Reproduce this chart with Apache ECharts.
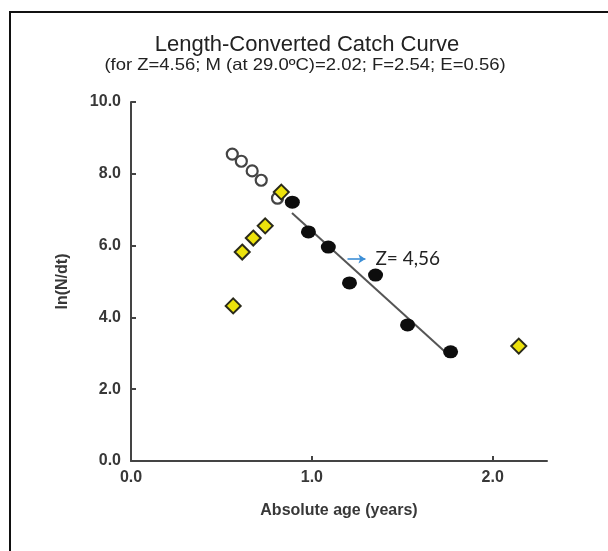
<!DOCTYPE html>
<html>
<head>
<meta charset="utf-8">
<script src="https://cdn.jsdelivr.net/npm/echarts@6/dist/echarts.min.js"></script>
<style>
  html, body { margin: 0; padding: 0; background: #fff; }
  #frame { position: absolute; left: 0; top: 0; width: 608px; height: 551px; }
  #frame::before {
    content: ""; position: absolute; left: 9px; top: 11px; right: 0; bottom: 0;
    border-top: 2px solid #111; border-left: 2px solid #111; pointer-events: none; z-index: 2;
  }
  #chart { position: absolute; left: 0; top: 0; width: 608px; height: 551px; }
</style>
</head>
<body>
<div id="frame"><div id="chart"></div></div>
<script>
// Catch curve points: age (years) vs ln(N/dt)
const excludedEarly = [[0.56, 8.55], [0.61, 8.35], [0.67, 8.08], [0.72, 7.82], [0.81, 7.32]];
const yellowPoints = [[0.565, 4.32], [0.615, 5.82], [0.676, 6.21], [0.742, 6.55], [0.831, 7.49], [2.144, 3.2]];
const regressionPoints = [[0.892, 7.21], [0.981, 6.38], [1.091, 5.96], [1.208, 4.96], [1.352, 5.18], [1.529, 3.79], [1.767, 3.04]];
const fitLine = [[0.89, 6.91], [1.756, 2.95]];
const arrowFrom = [1.197, 5.63];
const arrowTo = [1.296, 5.63];
const zLabel = 'Z= 4,56';
const xTicks = [0, 1, 2];
const yTicks = [0, 2, 4, 6, 8, 10];
const titleText = 'Length-Converted Catch Curve';
const subtitleText = '(for Z=4.56; M (at 29.0ºC)=2.02; F=2.54; E=0.56)';

const chart = echarts.init(document.getElementById('chart'), null, { renderer: 'canvas' });
const sans = 'Liberation Sans, Arial, sans-serif';
const labelFont = { color: '#383838', fontSize: 16, fontFamily: sans, fontWeight: 'bold' };

chart.setOption({
  backgroundColor: '#fff',
  animation: false,
  graphic: [
    {
      type: 'text', x: 307, y: 45, scaleX: 1.0,
      style: { text: titleText, font: '22px ' + sans, fill: '#222', textAlign: 'center', textVerticalAlign: 'middle' }
    },
    {
      type: 'text', x: 305, y: 65, scaleX: 1.12,
      style: { text: subtitleText, font: '16.5px ' + sans, fill: '#222', textAlign: 'center', textVerticalAlign: 'middle' }
    }
  ],
  grid: { left: 131, right: 61, top: 102, bottom: 90, containLabel: false },
  xAxis: {
    type: 'value', min: 0, max: 2.3, interval: 1,
    name: 'Absolute age (years)', nameLocation: 'middle', nameGap: 42,
    nameTextStyle: { ...labelFont },
    axisLine: { show: true, lineStyle: { color: '#444', width: 2 } },
    axisTick: { show: true, inside: true, length: 5, lineStyle: { color: '#444', width: 2 } },
    splitLine: { show: false },
    axisLabel: {
      ...labelFont, margin: 9, showMaxLabel: false,
      formatter: v => xTicks.includes(v) ? v.toFixed(1) : ''
    }
  },
  yAxis: {
    type: 'value', min: 0, max: 10, interval: 2,
    name: 'ln(N/dt)', nameLocation: 'middle', nameGap: 60,
    nameTextStyle: { ...labelFont },
    axisLine: { show: true, lineStyle: { color: '#444', width: 2 } },
    axisTick: { show: true, inside: true, length: 5, lineStyle: { color: '#444', width: 2 } },
    splitLine: { show: false },
    axisLabel: {
      ...labelFont, margin: 10,
      formatter: v => yTicks.includes(v) ? v.toFixed(1) : ''
    }
  },
  series: [
    {
      name: 'fit', type: 'line', data: fitLine, symbol: 'none', z: 1,
      lineStyle: { color: '#555', width: 2 },
      markLine: {
        silent: true, symbol: ['none', 'arrow'], symbolSize: [7, 7],
        lineStyle: { color: '#3d8fd6', width: 1.6, type: 'solid' },
        label: {
          show: true, position: 'end', distance: 10, formatter: zLabel,
          color: '#222', fontSize: 19, fontFamily: 'Lato, Open Sans, sans-serif'
        },
        data: [[{ coord: arrowFrom }, { coord: arrowTo }]]
      }
    },
    {
      name: 'early', type: 'scatter', data: excludedEarly, symbol: 'circle', symbolSize: 11, z: 2,
      itemStyle: { color: '#fff', borderColor: '#444', borderWidth: 2.2, opacity: 1 }
    },
    {
      name: 'yellow', type: 'scatter', data: yellowPoints, symbol: 'diamond', symbolSize: 15, z: 3,
      itemStyle: { color: '#ece20c', borderColor: '#2a2a1a', borderWidth: 2, opacity: 1 }
    },
    {
      name: 'used', type: 'scatter', data: regressionPoints, symbol: 'circle', symbolSize: [15, 13], z: 4,
      itemStyle: { color: '#0d0d0d', opacity: 1 }
    }
  ]
});
</script>
</body>
</html>
